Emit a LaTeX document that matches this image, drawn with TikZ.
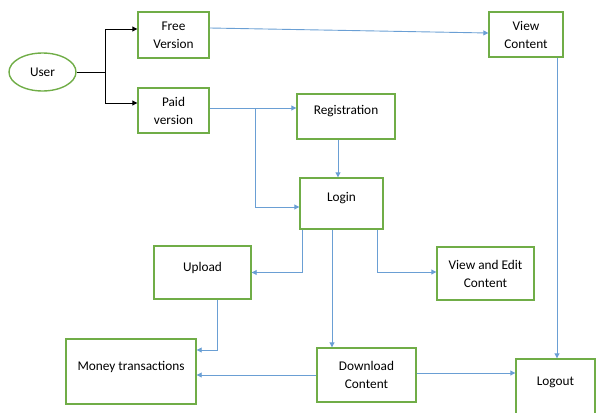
\documentclass[tikz,border=0pt]{standalone}
\usepackage{fontspec}
\setmainfont{Carlito}
\usetikzlibrary{arrows.meta,shapes.geometric}
\definecolor{boxgreen}{HTML}{70AD47}
\definecolor{lineblue}{HTML}{6A9FD4}
\begin{document}
\begin{tikzpicture}[x=1pt,y=-1pt,
  box/.style={draw=boxgreen, line width=1.4pt, inner sep=0pt, align=center,
    font=\fontsize{13.3}{18}\selectfont, text=black},
  txtup/.style={text height=10pt, text depth=#1},
  flow/.style={draw=lineblue, line width=0.9pt, -{Triangle[length=5pt,width=5pt]}},
  blk/.style={draw=black, line width=0.9pt},
  blkarrow/.style={blk, -{Triangle[length=5pt,width=5pt]}}]
\useasboundingbox (0,0) rectangle (596,412);
\clip (0,0) rectangle (596,412);

% nodes
\node[box, ellipse, minimum width=67pt, minimum height=38pt] (user) at (42.5,72) {User};
\node[box, minimum width=71pt, minimum height=46pt] (free) at (173.5,35) {Free\\Version};
\node[box, minimum width=71pt, minimum height=45pt] (paid) at (173.5,110.5) {Paid\\version};
\node[box, minimum width=74pt, minimum height=45pt] (view) at (526,34.5) {View\\Content};
\node[box, txtup=13.6pt, minimum width=98pt, minimum height=45pt] (reg) at (346,116.5) {Registration};
\node[box, txtup=14pt, minimum width=83pt, minimum height=51pt] (login) at (341.5,203.5) {Login};
\node[box, txtup=12pt, minimum width=97pt, minimum height=53pt] (upload) at (202.5,272.5) {Upload};
\node[box, minimum width=97pt, minimum height=53pt] (vedit) at (485.5,273.5) {View and Edit\\Content};
\node[box, txtup=11.6pt, minimum width=130pt, minimum height=65pt] (money) at (131,371.5) {Money transactions};
\node[box, minimum width=99pt, minimum height=54pt] (download) at (366.5,375) {Download\\Content};
\node[box, txtup=28pt, minimum width=79pt, minimum height=71pt] (logout) at (555.5,394.5) {Logout};

% user split
\coordinate (split) at (105,72);
\draw[blk] (user.east) -- (split);
\draw[blkarrow] (split) |- ([yshift=6pt]free.west);
\draw[blkarrow] (split) |- ([yshift=7.5pt]paid.west);

% free -> view
\draw[flow] ([yshift=7pt]free.east) -- ([yshift=1.5pt]view.west);
% view -> logout
\draw[flow] ([xshift=31pt]view.south) -- ([xshift=31pt]view.south |- logout.north);
% paid -> registration
\draw[flow] ([yshift=2.5pt]paid.east) -- ([yshift=2.5pt]paid.east -| reg.west);
% paid -> login
\coordinate (pb) at (255,108);
\draw[flow] (pb) |- ([yshift=-3.5pt]login.west);
% registration -> login
\draw[flow] ([xshift=-8pt]reg.south) -- ([xshift=-8pt]reg.south |- login.north);
% login -> upload
\draw[flow] ([xshift=-39pt]login.south) |- (upload.east);
% login -> download
\draw[flow] ([xshift=-9.5pt]login.south) -- ([xshift=-9.5pt]login.south |- download.north);
% login -> view and edit
\draw[flow] ([xshift=35.5pt]login.south) |- ([yshift=1.5pt]vedit.west);
% upload -> money
\draw[flow] ([xshift=14.5pt]upload.south) |- ([yshift=21.5pt]money.east);
% download -> money
\draw[flow] (download.west) -- (download.west -| money.east);
% download -> logout
\draw[flow] ([yshift=2pt]download.east) -- ([yshift=2pt]download.east -| logout.west);
\end{tikzpicture}
\end{document}
